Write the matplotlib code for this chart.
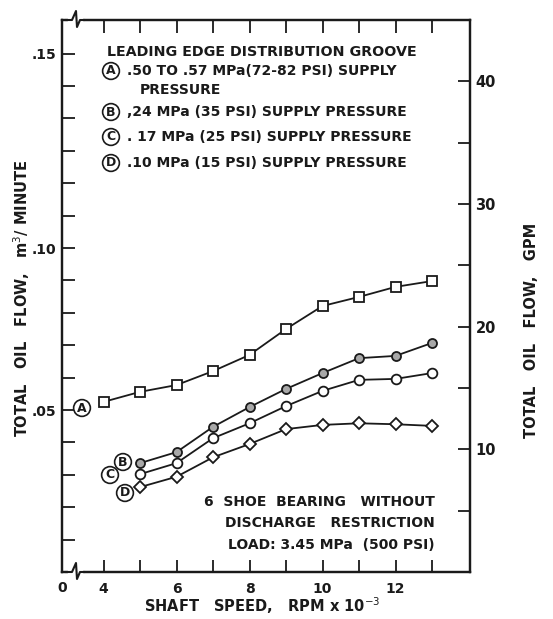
import matplotlib
matplotlib.use("Agg")
import matplotlib.pyplot as plt
from matplotlib.ticker import FixedLocator, NullFormatter

# ---- data ----
speed = [4, 5, 6, 7, 8, 9, 10, 11, 12, 13]           # RPM x 10^-3
flow_a = [0.0525, 0.0556, 0.0577, 0.0620, 0.0670, 0.0750, 0.0821, 0.0849, 0.0880, 0.0898]
speed_bcd = [5, 6, 7, 8, 9, 10, 11, 12, 13]
flow_b = [0.0336, 0.0370, 0.0448, 0.0509, 0.0565, 0.0614, 0.0660, 0.0667, 0.0707]
flow_c = [0.0302, 0.0336, 0.0413, 0.0459, 0.0512, 0.0559, 0.0593, 0.0596, 0.0614]
flow_d = [0.0262, 0.0294, 0.0354, 0.0395, 0.0441, 0.0454, 0.0459, 0.0456, 0.0451]
GPM_PER_M3MIN = 264.17

x_major = [4, 6, 8, 10, 12]
x_minor = [5, 7, 9, 11, 13]
# the original drawing places its ".15" label on the sixth tick above ".10"
y_major = [0.05, 0.10, 0.16]
y_major_labels = [".05", ".10", ".15"]
y_minor = [0.01, 0.02, 0.03, 0.04, 0.06, 0.07, 0.08, 0.09, 0.11, 0.12, 0.13, 0.14, 0.15]
gpm_major = [10, 20, 30, 40]
gpm_minor = [5, 15, 25, 35]

legend_lines = [
    ("A", ".50 TO .57 MPa(72-82 PSI) SUPPLY"),
    ("B", ",24 MPa (35 PSI) SUPPLY PRESSURE"),
    ("C", ". 17 MPa (25 PSI) SUPPLY PRESSURE"),
    ("D", ".10 MPa (15 PSI) SUPPLY PRESSURE"),
]

W, H = 553, 619
fig = plt.figure(figsize=(W / 100, H / 100), dpi=100)
L, R, B, T = 62, 470, 572, 20
ax = fig.add_axes([L / W, 1 - B / H, (R - L) / W, (B - T) / H])

xmin, xmax = 2.863, 14.04
ymin, ymax = 0.0, (B - T) / 3240.0
ax.set_xlim(xmin, xmax)
ax.set_ylim(ymin, ymax)

ink = "#1a1a1a"
lw = 1.3
ax.plot(speed, flow_a, color=ink, lw=lw, marker="s", ms=7, mfc="white", mec=ink, mew=1.3, zorder=3)
ax.plot(speed_bcd, flow_b, color=ink, lw=lw, marker="o", ms=6.5, mfc="#a8a8a8", mec=ink, mew=1.3, zorder=3)
ax.plot(speed_bcd, flow_c, color=ink, lw=lw, marker="o", ms=7, mfc="white", mec=ink, mew=1.3, zorder=3)
ax.plot(speed_bcd, flow_d, color=ink, lw=lw, marker="D", ms=6, mfc="white", mec=ink, mew=1.3, zorder=3)

for s in ax.spines.values():
    s.set_linewidth(1.6)
    s.set_color(ink)

fs = 10
ax.xaxis.set_major_locator(FixedLocator(x_major))
ax.xaxis.set_minor_locator(FixedLocator(x_minor))
ax.xaxis.set_minor_formatter(NullFormatter())
ax.set_xticklabels([str(v) for v in x_major])
ax.yaxis.set_major_locator(FixedLocator(y_major))
ax.set_yticklabels(y_major_labels)
ax.yaxis.set_minor_locator(FixedLocator(y_minor))
ax.tick_params(which="both", direction="in", length=9, width=1.3, colors=ink,
               top=True, bottom=True, left=True, right=False, labelsize=fs)
for lab in ax.get_xticklabels() + ax.get_yticklabels():
    lab.set_fontweight("bold")
ax.tick_params(axis="x", pad=7)
ax.tick_params(axis="y", pad=4)

ax2 = ax.twinx()
ax2.set_ylim(ymin * GPM_PER_M3MIN, ymax * GPM_PER_M3MIN)
ax2.yaxis.set_major_locator(FixedLocator(gpm_major))
ax2.yaxis.set_minor_locator(FixedLocator(gpm_minor))
ax2.tick_params(which="both", direction="in", length=9, width=1.3, colors=ink, labelsize=fs + 0.5, pad=4)
for lab in ax2.get_yticklabels():
    lab.set_fontweight("bold")
for s in ax2.spines.values():
    s.set_linewidth(1.6)
    s.set_color(ink)

# "0" at broken x origin
ax.text(xmin, -(588 - B) / 3240.0, "0", ha="center", va="center", fontsize=fs,
        fontweight="bold", color=ink)

# axis break zigzags
def px(xp, yp):
    return xp / W, 1 - yp / H

for yb in (T, B):
    fig.patches.append(plt.Rectangle(px(68, yb + 2), 14 / W, 4 / H, transform=fig.transFigure,
                                     color="white", zorder=5))
    pts = [(66, yb), (72, yb), (76, yb - 9), (77, yb + 7), (80, yb), (84, yb)]
    xs = [p[0] / W for p in pts]
    ys = [1 - p[1] / H for p in pts]
    fig.add_artist(plt.Line2D(xs, ys, color=ink, lw=1.5, zorder=6))

# axis labels
fig.text(22 / W, 1 - 298 / H, "TOTAL   OIL   FLOW,   m$^3$/ MINUTE", rotation=90,
         ha="center", va="center", fontsize=fs + 0.5, fontweight="bold", color=ink)
fig.text(532 / W, 1 - 330 / H, "TOTAL   OIL   FLOW,   GPM", rotation=90,
         ha="center", va="center", fontsize=fs + 0.5, fontweight="bold", color=ink)
fig.text(262 / W, 1 - 606 / H, "SHAFT   SPEED,   RPM x 10$^{-3}$",
         ha="center", va="center", fontsize=fs + 0.5, fontweight="bold", color=ink)

# legend text block
circ = dict(boxstyle="circle,pad=0.15", fc="white", ec=ink, lw=1.2)
fig.text(107 / W, 1 - 52 / H, "LEADING EDGE DISTRIBUTION GROOVE", ha="left", va="center",
         fontsize=fs + 0.3, fontweight="bold", color=ink)
rows_y = [71, 112, 137, 163]
for (letter, txt), yy in zip(legend_lines, rows_y):
    fig.text(111 / W, 1 - yy / H, letter, ha="center", va="center", fontsize=fs - 1,
             fontweight="bold", color=ink, bbox=circ)
    fig.text(127 / W, 1 - yy / H, txt, ha="left", va="center", fontsize=fs,
             fontweight="bold", color=ink)
fig.text(140 / W, 1 - 90 / H, "PRESSURE", ha="left", va="center", fontsize=fs,
         fontweight="bold", color=ink)

# curve labels
for letter, xx, yy in (("A", 82, 408), ("B", 123, 462), ("C", 110, 475), ("D", 125, 493)):
    fig.text(xx / W, 1 - yy / H, letter, ha="center", va="center", fontsize=fs - 1,
             fontweight="bold", color=ink, bbox=circ, zorder=7)

# note
for txt, yy in (("6  SHOE  BEARING   WITHOUT", 502), ("DISCHARGE   RESTRICTION", 523),
                ("LOAD: 3.45 MPa  (500 PSI)", 545)):
    fig.text(435 / W, 1 - yy / H, txt, ha="right", va="center", fontsize=fs,
             fontweight="bold", color=ink)

fig.savefig("out.png", dpi=100, facecolor="white")
